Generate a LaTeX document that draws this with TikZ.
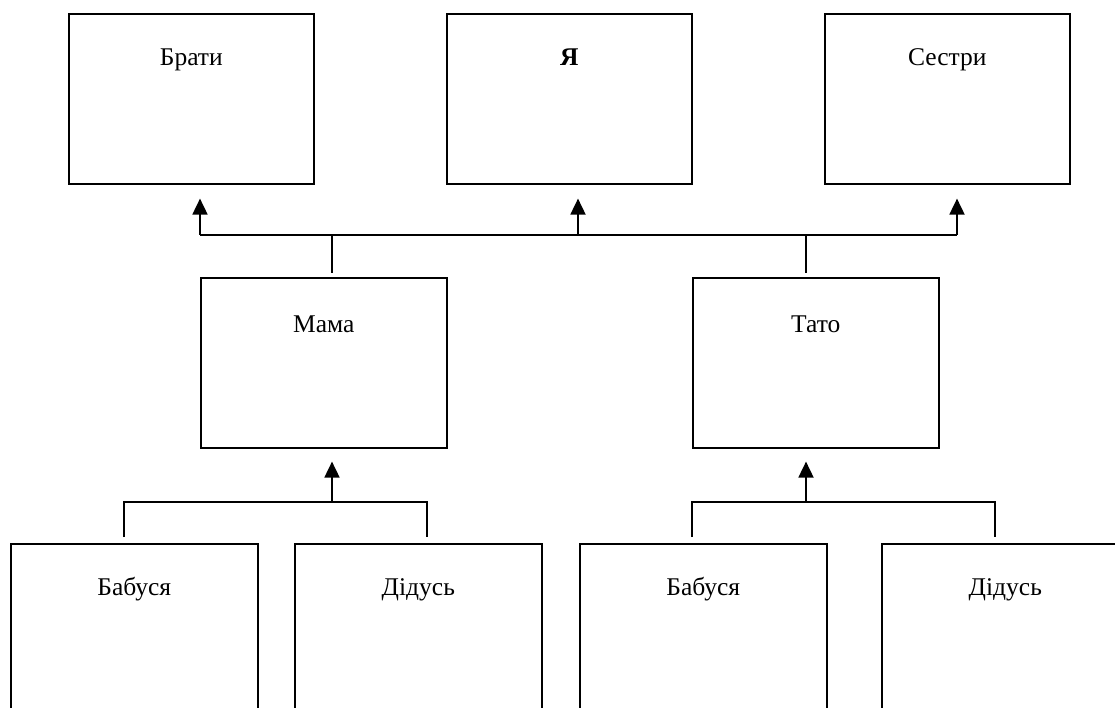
\documentclass[tikz,border=0pt]{standalone}
\usepackage{fontspec}
\setmainfont{Liberation Serif}
\usetikzlibrary{arrows.meta,calc}
\begin{document}
\begin{tikzpicture}[x=1pt,y=-1pt,
  box/.style={draw, line width=1.6pt, minimum width=245pt, minimum height=170pt, inner sep=0pt, anchor=north west},
  lowbox/.style={box, minimum width=247pt, minimum height=200pt},
  txt/.style={font=\fontsize{25.5}{30}\selectfont},
  conn/.style={line width=1.8pt},
  arr/.style={conn, -{Triangle[length=16pt,width=15pt]}}]
\useasboundingbox (0,0) rectangle (1115,708);
\clip (0,0) rectangle (1115,708);
% top row
\node[box, label={[txt, anchor=base, yshift=-53pt]north:Брати}] (brati) at (68,13) {};
\node[box, label={[txt, anchor=base, yshift=-53pt]north:\bfseries Я}] (ya) at (446,13) {};
\node[box, label={[txt, anchor=base, yshift=-53pt]north:Сестри}] (sestry) at (824,13) {};
% middle row
\node[box, minimum width=246pt, label={[txt, anchor=base, yshift=-55pt]north:Мама}] (mama) at (200,277) {};
\node[box, minimum width=246pt, label={[txt, anchor=base, yshift=-55pt]north:Тато}] (tato) at (692,277) {};
% bottom row
\node[lowbox, label={[txt, anchor=base, yshift=-52pt]north:Бабуся}] (bab1) at (10,543) {};
\node[lowbox, label={[txt, anchor=base, yshift=-52pt]north:Дідусь}] (did1) at (294,543) {};
\node[lowbox, label={[txt, anchor=base, yshift=-52pt]north:Бабуся}] (bab2) at (579,543) {};
\node[lowbox, label={[txt, anchor=base, yshift=-52pt]north:Дідусь}] (did2) at (881,543) {};
% top connectors
\coordinate (tl) at (200,235);
\coordinate (tm) at (578,235);
\coordinate (tr) at (957,235);
\coordinate (mj) at (332,235);
\coordinate (tj) at (806,235);
\draw[conn] (tl) -- (tr);
\draw[arr, shorten >=14pt] (tl) -- (tl |- brati.south);
\draw[arr, shorten >=14pt] (tm) -- (tm |- ya.south);
\draw[arr, shorten >=14pt] (tr) -- (tr |- sestry.south);
\draw[conn, shorten >=4pt] (mj) -- (mj |- mama.north);
\draw[conn, shorten >=4pt] (tj) -- (tj |- tato.north);
% bottom left bracket
\coordinate (bl1) at (124,502);
\coordinate (br1) at (427,502);
\coordinate (ba1) at (332,502);
\draw[conn] ($(bl1 |- bab1.north)+(0,-6)$) -- (bl1) -- (br1) -- ($(br1 |- did1.north)+(0,-6)$);
\draw[arr, shorten >=13pt] (ba1) -- (ba1 |- mama.south);
% bottom right bracket
\coordinate (bl2) at (692,502);
\coordinate (br2) at (995,502);
\coordinate (ba2) at (806,502);
\draw[conn] ($(bl2 |- bab2.north)+(0,-6)$) -- (bl2) -- (br2) -- ($(br2 |- did2.north)+(0,-6)$);
\draw[arr, shorten >=13pt] (ba2) -- (ba2 |- tato.south);
\end{tikzpicture}
\end{document}
